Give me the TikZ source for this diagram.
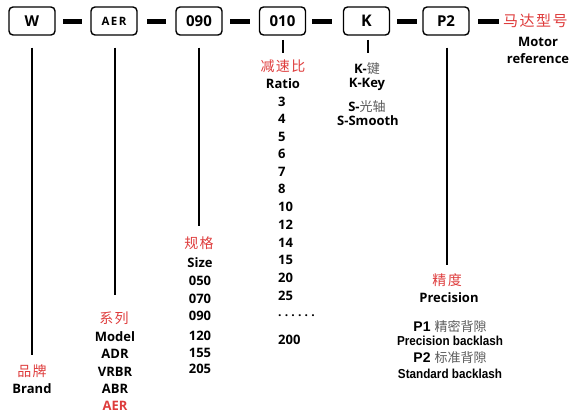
\documentclass[tikz,border=0pt]{standalone}
\usepackage{fontspec}
\setmainfont{Open Sans}
\newfontfamily\cjk{Noto Sans CJK SC}
\newfontfamily\narrowf{Liberation Sans}
\definecolor{cnred}{RGB}{222,60,60}
\definecolor{cngray}{RGB}{90,90,90}
\newcommand{\cg}{\hspace{1.5pt}}
\tikzset{
  codebox/.style={draw=black, line width=1.4pt, rounded corners=4pt, minimum width=46pt, minimum height=28pt, inner sep=0pt, font=\bfseries\fontsize{15}{15}\selectfont},
  bar/.style={fill=black, draw=none},
  vline/.style={line width=2pt},
  lab/.style={inner sep=0pt, font=\bfseries\fontsize{13}{13}\selectfont},
  cnlab/.style={inner sep=0pt, text=cnred, font=\cjk\fontsize{14}{14}\selectfont},
  narrowlab/.style={inner sep=0pt, font=\narrowf\bfseries\fontsize{13}{13}\selectfont},
}
\begin{document}
\begin{tikzpicture}[x=1pt,y=-1pt]
\useasboundingbox (0,0) rectangle (571,414);
% code boxes
\node[codebox] (bW) at (32,21) {W};
\node[codebox, font=\bfseries\fontsize{11.5}{11.5}\selectfont] (bAER) at (114,21) {A\hspace{1.5pt}E\hspace{1.5pt}R};
\node[codebox] (b090) at (199,21) {090};
\node[codebox] (b010) at (282.5,21) {010};
\node[codebox, font=\bfseries\fontsize{16}{16}\selectfont] (bK) at (366.5,21) {K};
\node[codebox] (bP2) at (446,21) {P2};
% bars
\fill[bar] (63,19) rectangle (82,24);
\fill[bar] (147,19) rectangle (166,24);
\fill[bar] (230,19) rectangle (250,24);
\fill[bar] (312,19) rectangle (332,24);
\fill[bar] (397,19) rectangle (417,24);
\fill[bar] (478,19) rectangle (499,24);
% motor reference
\node[cnlab, anchor=west, font=\cjk\fontsize{15}{15}\selectfont] (mcn) at (503,21) {马\cg 达\cg 型\cg 号};
\node[lab] (mot) at (538,42) {Motor};
\node[lab] (mref) at (538,59) {reference};
% coordinates for line ends
\coordinate (wE) at (32,355);
\coordinate (aE) at (115,295);
\coordinate (sE) at (199,226);
\coordinate (rS) at (283,40);
\coordinate (rE) at (283,53);
\coordinate (kS) at (368,40);
\coordinate (kE) at (368,53);
\coordinate (pE) at (447,265);
\draw[vline] ([yshift=-12pt]bW.south) -- (wE);
\draw[vline] ([yshift=-12pt]bAER.south -| aE) -- (aE);
\draw[vline] ([yshift=-12pt]b090.south -| sE) -- (sE);
\draw[vline] (rS) -- (rE);
\draw[vline] (kS) -- (kE);
\draw[vline] ([yshift=-12pt]bP2.south -| pE) -- (pE);
% brand
\node[cnlab] (brcn) at (32,371) {品\cg 牌};
\node[lab] (br) at (32,389) {Brand};
% model
\node[cnlab] (mdcn) at (114,318) {系\cg 列};
\node[lab] (md) at (115,337) {Model};
\node[lab] (m1) at (115,354) {ADR};
\node[lab] (m2) at (115,372) {VRBR};
\node[lab] (m3) at (115,389) {ABR};
\node[lab, text=cnred] (m4) at (115,406) {AER};
% size
\node[cnlab] (szcn) at (199,243) {规\cg 格};
\node[lab] (sz) at (200,263) {Size};
\node[lab] (s1) at (200,281) {050};
\node[lab] (s2) at (200,299) {070};
\node[lab] (s3) at (200,316) {090};
\node[lab] (s4) at (200,336) {120};
\node[lab] (s5) at (200,353) {155};
\node[lab] (s6) at (200,369) {205};
% ratio
\node[cnlab] (rcn) at (283,66) {减\cg 速\cg 比};
\node[lab] (ra) at (283,84) {Ratio};
\node[lab, anchor=west] (r1) at (278,102) {3};
\node[lab, anchor=west] (r2) at (278,119) {4};
\node[lab, anchor=west] (r3) at (278,137) {5};
\node[lab, anchor=west] (r4) at (278,154) {6};
\node[lab, anchor=west] (r5) at (278,172) {7};
\node[lab, anchor=west] (r6) at (278,189) {8};
\node[lab, anchor=west] (r7) at (278,207) {10};
\node[lab, anchor=west] (r8) at (278,225) {12};
\node[lab, anchor=west] (r9) at (278,243) {14};
\node[lab, anchor=west] (r10) at (278,260) {15};
\node[lab, anchor=west] (r11) at (278,278) {20};
\node[lab, anchor=west] (r12) at (278,296) {25};
\node[lab, anchor=west, font=\bfseries\fontsize{12}{12}\selectfont] (r13) at (278,316) {.\hspace{3.2pt}.\hspace{3.2pt}.\hspace{3.2pt}.\hspace{3.2pt}.\hspace{3.2pt}.};
\node[lab, anchor=west] (r14) at (278,340) {200};
% key
\node[lab] (k1) at (367,69) {K-{\cjk\mdseries\color{cngray}键}};
\node[lab] (k2) at (367,84) {K-Key};
\node[lab] (k3) at (367,107) {S-{\cjk\mdseries\color{cngray}光轴}};
\node[lab] (k4) at (368,121) {S-Smooth};
% precision
\node[cnlab] (pcn) at (447,280) {精\cg 度};
\node[lab] (pr) at (449,298) {Precision};
\node[narrowlab, font=\narrowf\bfseries\fontsize{14}{14}\selectfont] (p1) at (450,327) {P1 {\cjk\mdseries\fontsize{13}{13}\selectfont\color{cngray}精密背隙}};
\node[narrowlab] (p1e) at (450,341) {\scalebox{0.9}[1]{Precision backlash}};
\node[narrowlab, font=\narrowf\bfseries\fontsize{14}{14}\selectfont] (p2) at (450,358) {P2 {\cjk\mdseries\fontsize{13}{13}\selectfont\color{cngray}标准背隙}};
\node[narrowlab] (p2e) at (450,374) {\scalebox{0.9}[1]{Standard backlash}};
\end{tikzpicture}
\end{document}
